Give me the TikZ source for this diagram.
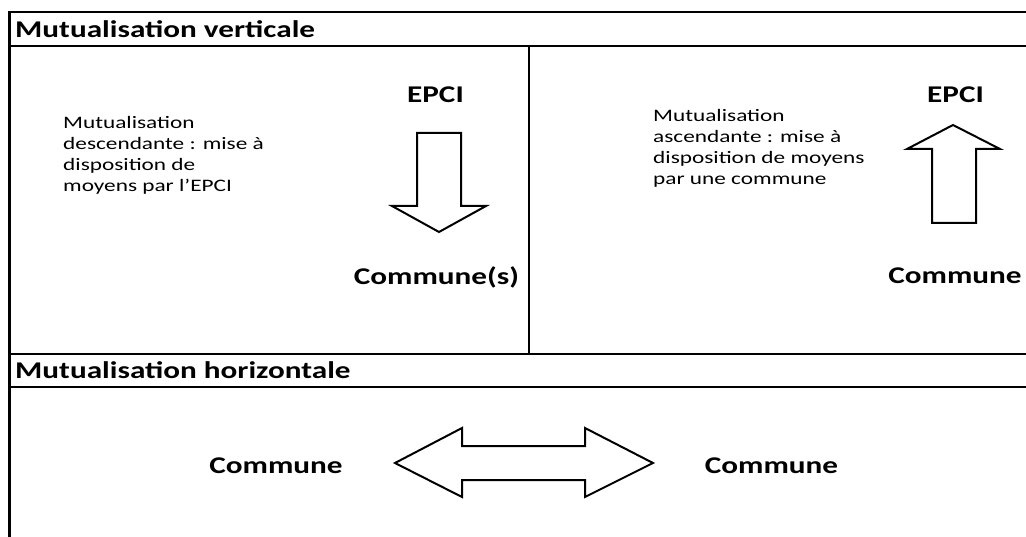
\documentclass[tikz,border=0pt]{standalone}
\usepackage{fontspec}
\setmainfont{Carlito}
\usepackage{graphicx}
\newcommand\W[2][1.3]{\scalebox{#1}[1]{#2}}
\tikzset{
  rule/.style={line width=2.6pt},
  blockarrow/.style={draw, line width=2pt, fill=white, line join=miter},
  head/.style={font=\fontsize{24}{28}\selectfont\bfseries, inner sep=0pt, anchor=base west},
  lab/.style={font=\fontsize{24}{28}\selectfont\bfseries, inner sep=0pt, anchor=base},
  desc/.style={font=\fontsize{17.5}{21}\selectfont, inner sep=0pt, anchor=base west},
}
\begin{document}
\begin{tikzpicture}[x=1pt,y=-1pt]
\useasboundingbox (0,0) rectangle (1026,537);
% frame lines
\draw[rule] (1030,12) -- (9.5,12) -- (9.5,540);
\draw[rule] (9.5,46) -- (1030,46);
\draw[rule] (529,46) -- (529,354);
\draw[rule] (9.5,354) -- (1030,354);
\draw[rule] (9.5,387) -- (1030,387);
% section titles
\node[head] (tv) at (15,38) {\W{Mutualisation verticale}};
\node[head] (th) at (15,379) {\W{Mutualisation horizontale}};
% left panel
\node[desc] (dl) at (63,129) {\W[1.33]{\begin{tabular}[t]{@{}l@{}}Mutualisation\\descendante : mise à\\disposition de\\moyens par l’EPCI\end{tabular}}};
\node[lab] (epcil) at (435.5,103) {\W{EPCI}};
\node[lab] (coml) at (436.5,285) {\W{Commune(s)}};
\draw[blockarrow] (417,133) -- (461,133) -- (461,206) -- (486,206) -- (439,232) -- (392,206) -- (417,206) -- cycle;
% right panel
\node[desc] (dr) at (653,122) {\W[1.33]{\begin{tabular}[t]{@{}l@{}}Mutualisation\\ascendante : mise à\\disposition de moyens\\par une commune\end{tabular}}};
\node[lab] (epcir) at (955.5,103) {\W{EPCI}};
\node[lab] (comr) at (955,284) {\W{Commune}};
\draw[blockarrow] (953,125) -- (1000,149) -- (976,149) -- (976,223) -- (932,223) -- (932,149) -- (907,149) -- cycle;
% horizontal
\node[lab] (hl) at (276,473) {\W{Commune}};
\node[lab] (hr) at (771.5,473) {\W{Commune}};
\draw[blockarrow] (395,463) -- (462,428) -- (462,446) -- (585,446) -- (585,428) -- (653,463) -- (585,497) -- (585,480) -- (462,480) -- (462,497) -- cycle;
\end{tikzpicture}
\end{document}
